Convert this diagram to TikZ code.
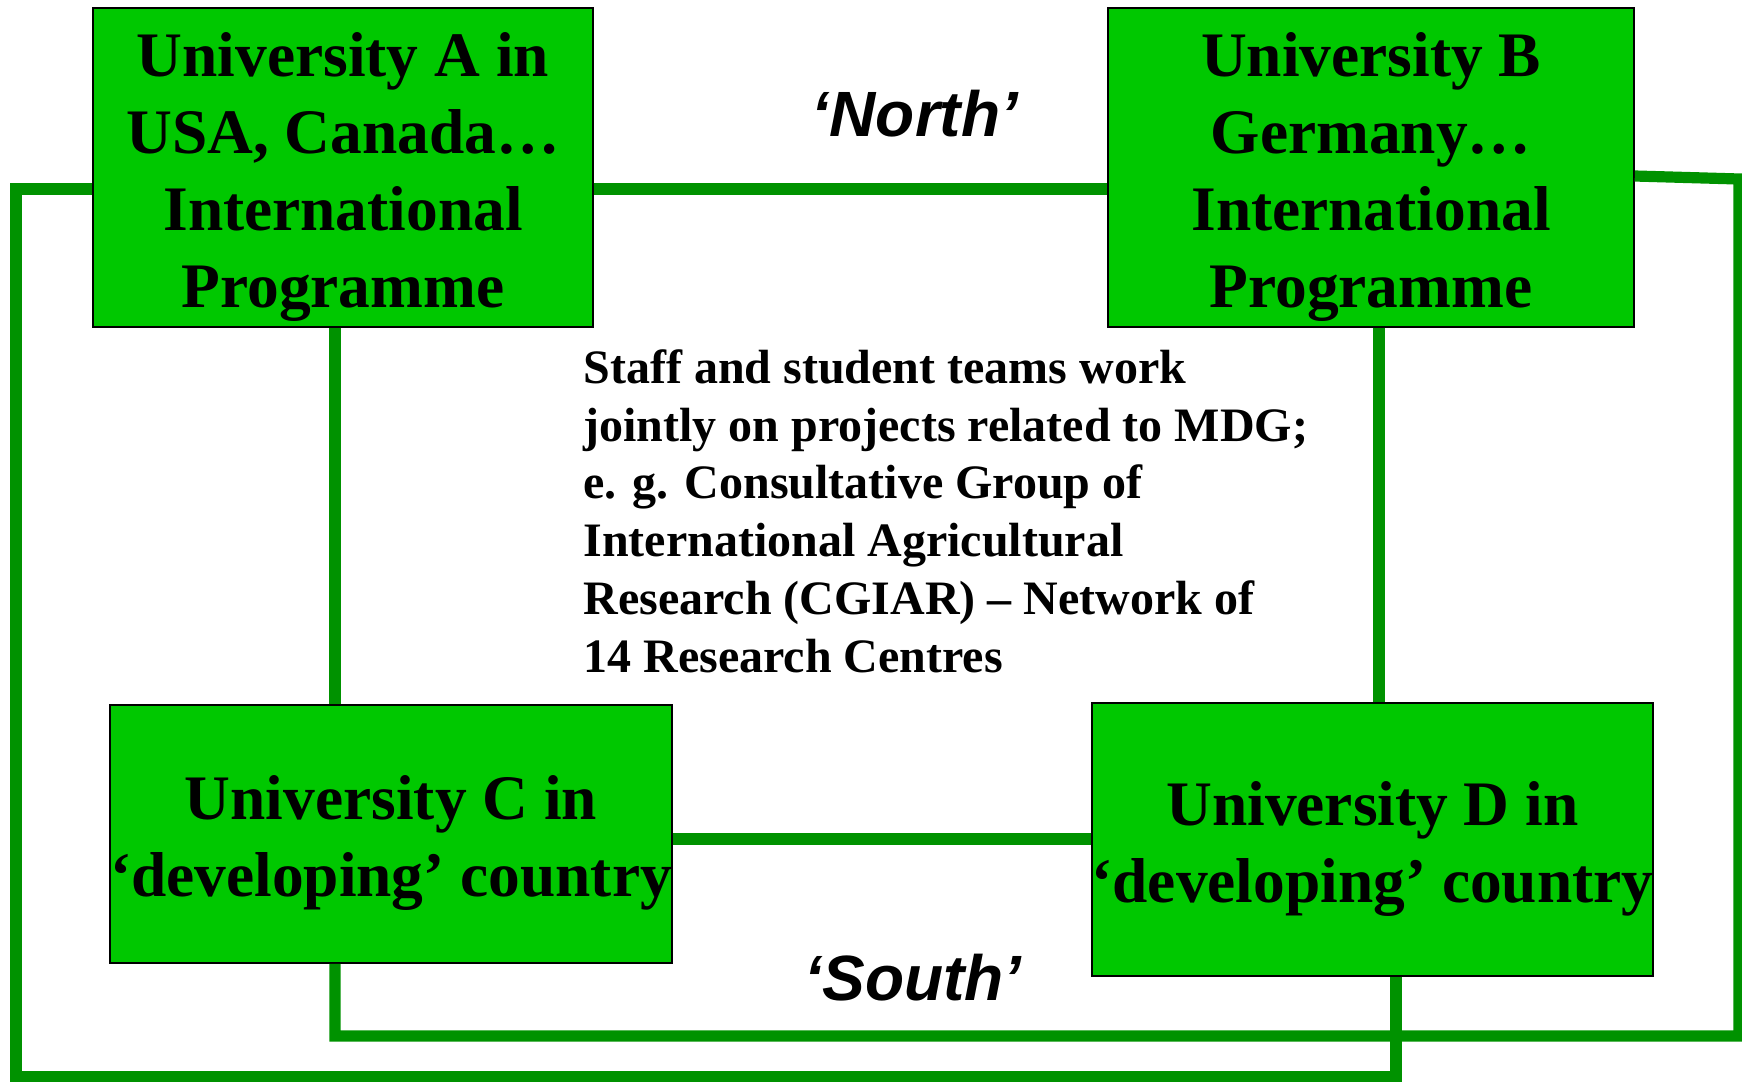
\documentclass[tikz,border=0pt]{standalone}
\usepackage{fontspec}
\setmainfont{Liberation Serif}
\newfontfamily\sansfont{Liberation Sans}
\usepackage{tikz}
\usetikzlibrary{calc}

\definecolor{boxgreen}{RGB}{0,200,0}
\definecolor{linkgreen}{RGB}{0,146,0}

\begin{document}
\begin{tikzpicture}[x=0.5pt, y=-0.5pt,
  uni/.style={draw=black, line width=0.8pt, fill=boxgreen, inner sep=0pt},
  unitext/.style={inner sep=0pt, align=center, yshift=-4.5pt,
    font={\bfseries\fontsize{31.7}{38.5}\selectfont}},
  link/.style={draw=linkgreen, line width=5.6pt},
  hemi/.style={anchor=base, font={\sansfont\bfseries\itshape\fontsize{32}{38}\selectfont}}
  ]
  \useasboundingbox (0,0) rectangle (1742,1082);

  % universities
  \node[uni, minimum width=250pt, minimum height=159.5pt] (uA) at (343,167.5) {};
  \node[uni, minimum width=263pt, minimum height=159.5pt] (uB) at (1371,167.5) {};
  \node[uni, minimum width=281pt, minimum height=129pt] (uC) at (391,834) {};
  \node[uni, minimum width=280.5pt, minimum height=136.5pt] (uD) at (1372.5,839.5) {};
  \node[unitext] (tA) at (uA) {University A in\\ USA, Canada…\\ International\\ Programme};
  \node[unitext] (tB) at (uB) {University B\\ Germany…\\ International\\ Programme};
  \node[unitext] (tC) at (uC) {University C in\\ ‘developing’ country};
  \node[unitext] (tD) at (uD) {University D in\\ ‘developing’ country};

  % labels
  \node[hemi] (north) at (915,136) {‘North’};
  \node[hemi] (south) at (913,1000) {‘South’};
  \node[anchor=north west, inner sep=0pt, align=left,
    font={\bfseries\fontsize{24}{28.9}\selectfont}] (note) at (583,349)
    {Staff and student teams work\\ jointly on projects related to MDG;\\
     e. g. Consultative Group of\\ International Agricultural\\
     Research (CGIAR) – Network of\\ 14 Research Centres};

  % corners of the outer loops
  \coordinate (nw) at (16,189);
  \coordinate (sw) at (16,1077);
  \coordinate (ne) at (1739,179);
  \coordinate (se) at (1739,1036);
  \coordinate (cfoot) at (335,1036);
  \coordinate (dfoot) at (1396,1077);
  \coordinate (bvert) at (1379,0);
  \coordinate (cdrow) at (0,839);

  % links
  \draw[link] (uA.east |- nw) -- (uB.west |- nw);
  \draw[link] (uC.east |- cdrow) -- (uD.west |- cdrow);
  \draw[link] (uA.south -| cfoot) -- (uC.north -| cfoot);
  \draw[link] (uB.south -| bvert) -- (uD.north -| bvert);
  \draw[link] (uA.west |- nw) -- (nw) -- (sw) -- (dfoot) -- (dfoot |- uD.south);
  \draw[link] ($(uB.east |- ne)+(0,-3)$) -- (ne) -- (se) -- (cfoot) -- (cfoot |- uC.south);
\end{tikzpicture}
\end{document}
